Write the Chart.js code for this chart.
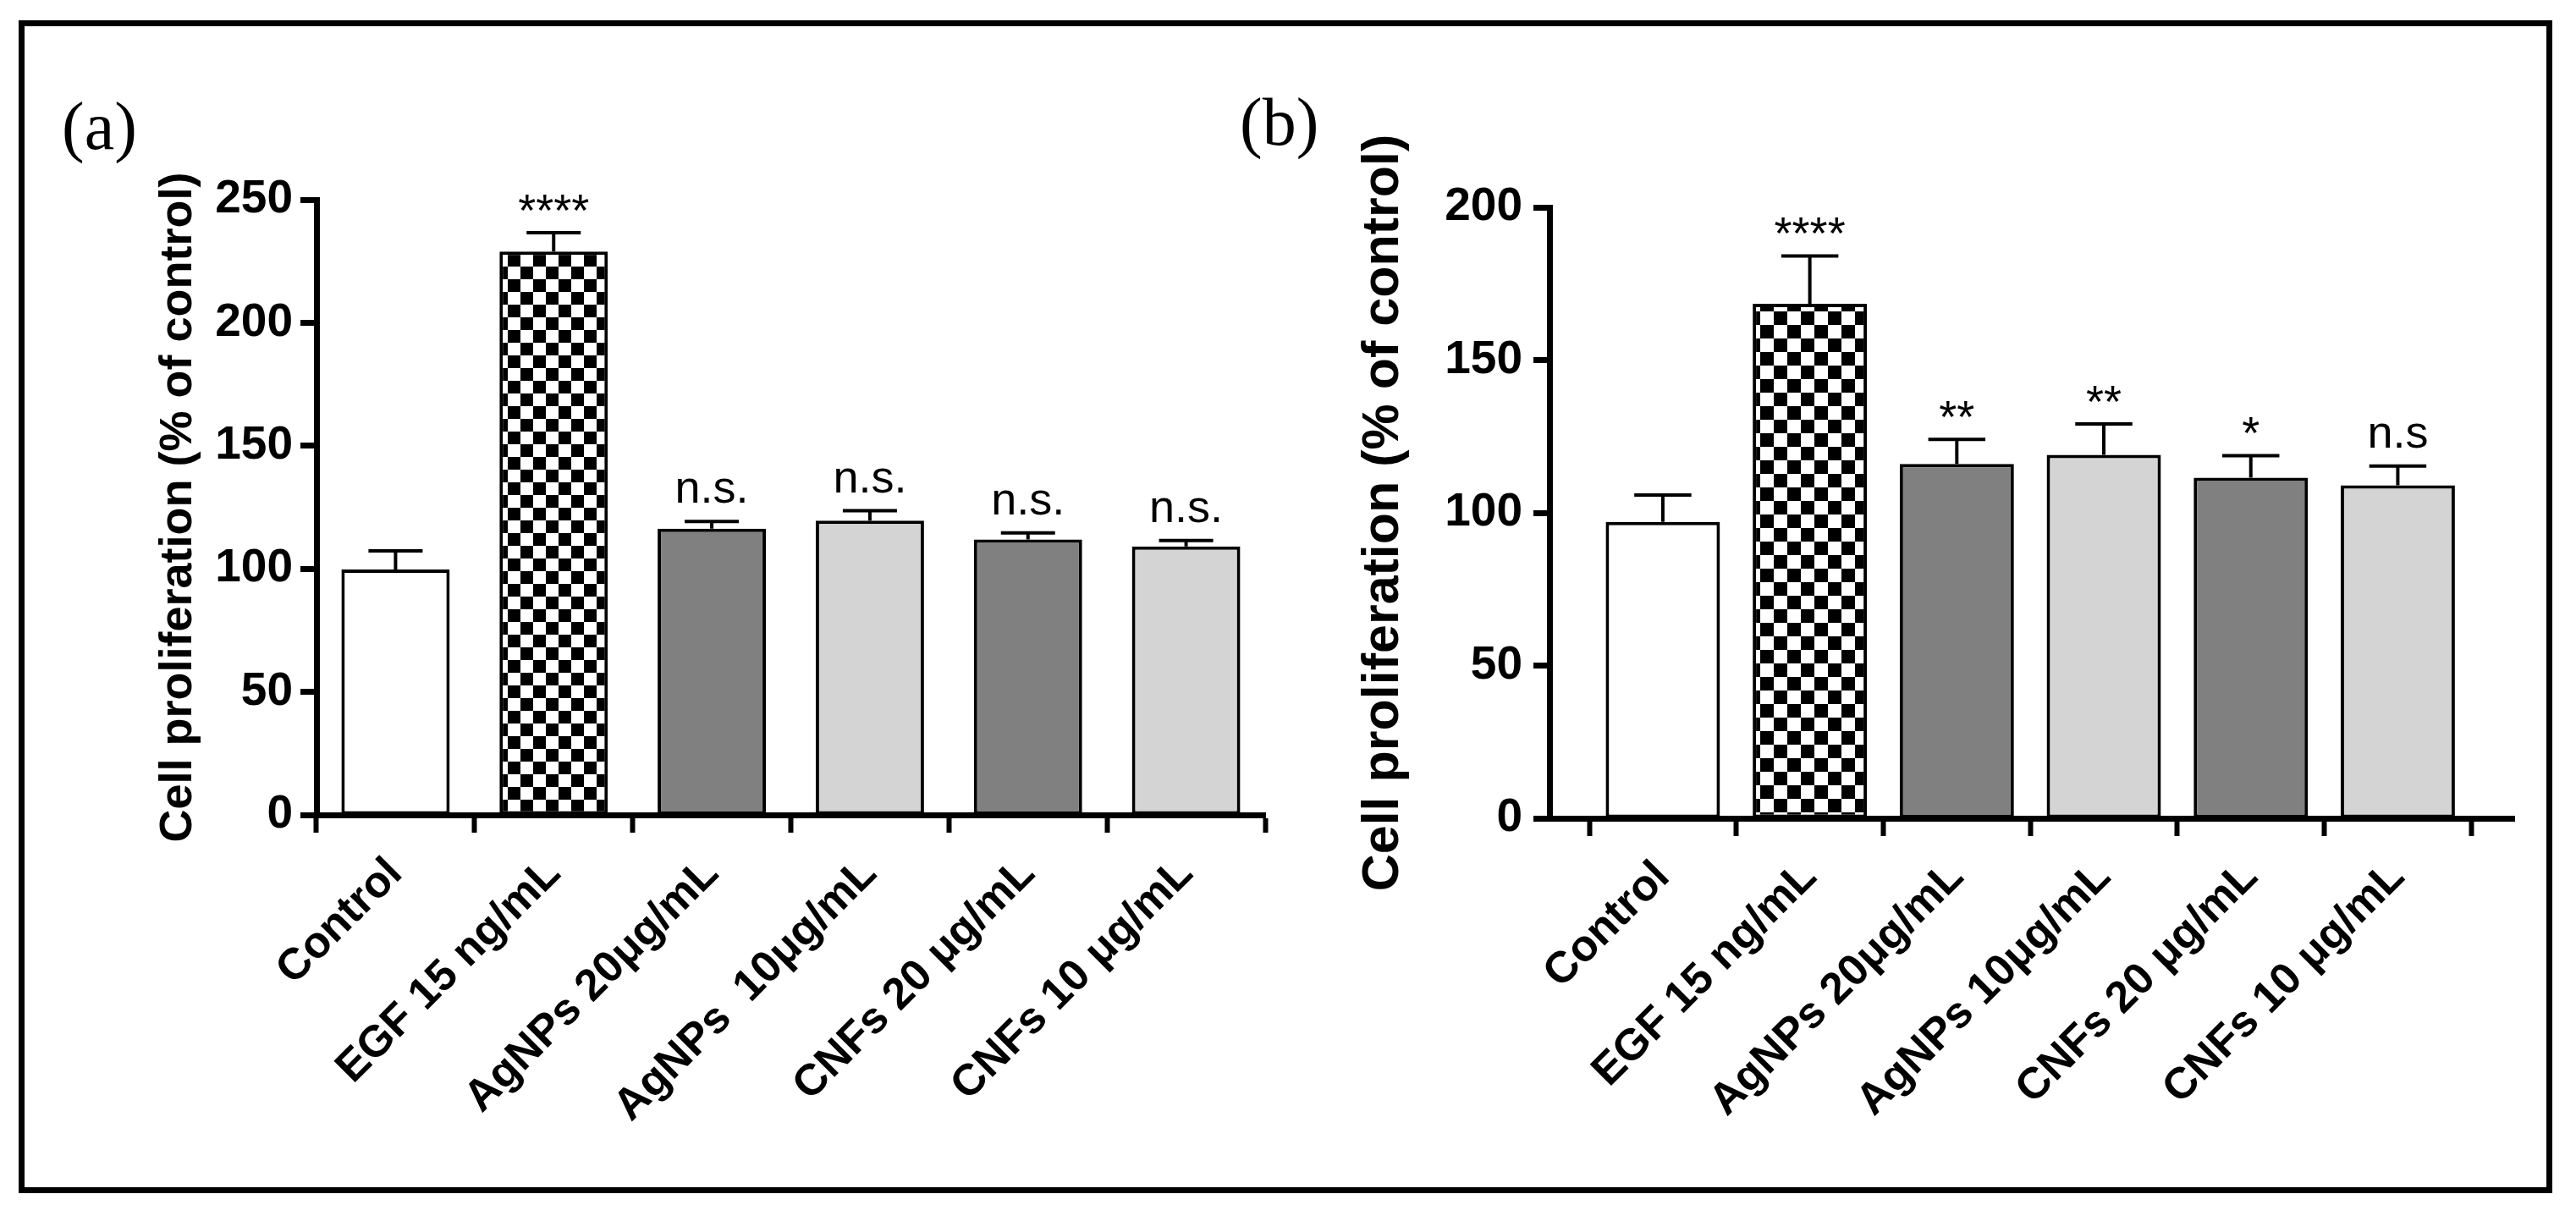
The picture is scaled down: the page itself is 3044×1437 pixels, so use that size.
<!DOCTYPE html>
<html>
<head>
<meta charset="utf-8">
<script src="https://cdn.jsdelivr.net/npm/chart.js@4.4.1/dist/chart.umd.min.js"></script>
<style>
  html, body { margin: 0; padding: 0; background: #fff; }
  body { width: 3044px; height: 1437px; position: relative; overflow: hidden; }
  #frame { position: absolute; left: 22px; top: 24px; width: 2994px; height: 1386px;
           border: 7px solid #000; box-sizing: border-box; }
  canvas { position: absolute; left: 0; top: 0; }
</style>
</head>
<body>
<div id="frame"></div>
<canvas id="chartA" width="3044" height="1437"></canvas>
<canvas id="chartB" width="3044" height="1437"></canvas>
<script>
// panel (a)
const categoriesA = ["Control", "EGF 15 ng/mL", "AgNPs 20\u03bcg/mL", "AgNPs  10\u03bcg/mL", "CNFs 20 \u03bcg/mL", "CNFs 10 \u03bcg/mL"];
const valuesA = [99.7, 228.9, 116.3, 119.6, 111.9, 109.1];
const errorsA = [7.6, 7.7, 2.9, 4.0, 2.7, 2.4];
const marksA = ["", "****", "n.s.", "n.s.", "n.s.", "n.s."];
const yTicksA = [0, 50, 100, 150, 200, 250];

// panel (b)
const categoriesB = ["Control", "EGF 15 ng/mL", "AgNPs 20\u03bcg/mL", "AgNPs 10\u03bcg/mL", "CNFs 20 \u03bcg/mL", "CNFs 10 \u03bcg/mL"];
const valuesB = [97.0, 168.4, 116.0, 119.0, 111.5, 109.0];
const errorsB = [8.8, 15.7, 8.0, 10.1, 7.2, 6.3];
const marksB = ["", "****", "**", "**", "*", "n.s"];
const yTicksB = [0, 50, 100, 150, 200];

const SANS = '"Liberation Sans", Arial, sans-serif';
const NARROW = '"Liberation Sans Narrow", "Arial Narrow", "Liberation Sans", Arial, sans-serif';

// checkerboard fill for the EGF bar
function checker(size) {
  const c = document.createElement("canvas");
  c.width = c.height = size * 2;
  const g = c.getContext("2d");
  g.fillStyle = "#fff";
  g.fillRect(0, 0, size * 2, size * 2);
  g.fillStyle = "#000";
  g.fillRect(0, 0, size, size);
  g.fillRect(size, size, size, size);
  return g.createPattern(c, "repeat");
}

// error bars, significance marks and panel letter
function overlay(errors, marks, letter) {
  return {
    id: "overlay",
    afterDatasetsDraw(chart) {
      const ctx = chart.ctx;
      const y = chart.scales.y;
      const ds = chart.data.datasets[0];
      ctx.save();
      ctx.strokeStyle = "#000";
      ctx.lineWidth = 4;
      ctx.fillStyle = "#000";
      ctx.font = "54px " + NARROW;
      ctx.textAlign = "center";
      ctx.textBaseline = "alphabetic";
      chart.getDatasetMeta(0).data.forEach((bar, i) => {
        const top = y.getPixelForValue(ds.data[i].y + errors[i]);
        const half = bar.width / 4;
        ctx.beginPath();
        ctx.moveTo(bar.x, bar.y);
        ctx.lineTo(bar.x, top);
        ctx.moveTo(bar.x - half, top);
        ctx.lineTo(bar.x + half, top);
        ctx.stroke();
        if (marks[i]) {
          const gap = marks[i].startsWith("*") ? 8 : 22;
          ctx.fillText(marks[i], bar.x, top - gap);
        }
      });
      ctx.font = "80px \"Liberation Serif\", \"Times New Roman\", serif";
      ctx.textAlign = "left";
      ctx.fillText(letter.text, letter.x, letter.y);
      ctx.restore();
    },
  };
}

function makeChart(id, cats, vals, errs, marks, yTicks, o) {
  const fills = ["#ffffff", checker(o.check), "#808080", "#d4d4d4", "#808080", "#d4d4d4"];
  return new Chart(document.getElementById(id), {
    type: "bar",
    data: {
      datasets: [{
        data: vals.map((v, i) => ({ x: i, y: v })),
        backgroundColor: fills,
        borderColor: "#000",
        borderWidth: 4,
        borderSkipped: false,
        barPercentage: 1,
        categoryPercentage: o.barFrac,
      }],
    },
    options: {
      responsive: false,
      animation: false,
      devicePixelRatio: 1,
      layout: { padding: { left: o.padL, right: o.padR, top: o.padT, bottom: 0 } },
      plugins: { legend: { display: false }, tooltip: { enabled: false } },
      scales: {
        x: {
          type: "linear",
          min: o.xMin,
          max: o.xMax,
          offset: false,
          afterBuildTicks(s) { s.ticks = cats.map((c, i) => ({ value: i })); },
          afterFit(s) { s.height = o.xH; s.paddingLeft = 0; s.paddingRight = 0; },
          ticks: {
            autoSkip: false,
            minRotation: 45,
            maxRotation: 45,
            padding: 18,
            color: "#000",
            font: { family: SANS, size: 52, weight: "bold" },
            callback: (v) => cats[Math.round(v)] ?? "",
          },
          grid: { drawOnChartArea: false, tickLength: 21, tickWidth: 6, tickColor: "#000" },
          border: { display: true, color: "#000", width: 7 },
        },
        y: {
          min: 0,
          max: yTicks[yTicks.length - 1],
          afterBuildTicks(s) { s.ticks = yTicks.map((v) => ({ value: v })); },
          afterFit(s) { s.width = o.yW; s.paddingTop = 0; s.paddingBottom = 0; },
          ticks: {
            padding: o.tickPad,
            color: "#000",
            font: { family: NARROW, size: 55, weight: "bold" },
          },
          grid: { drawOnChartArea: false, tickLength: 19, tickWidth: 7, tickColor: "#000" },
          border: { display: true, color: "#000", width: 7 },
          title: {
            display: true,
            text: "Cell proliferation (% of control)",
            color: "#000",
            padding: 0,
            font: { family: SANS, size: o.titleSize, weight: "bold" },
          },
        },
      },
    },
    plugins: [overlay(errs, marks, o.letter)],
  });
}

makeChart("chartA", categoriesA, valuesA, errorsA, marksA, yTicksA, {
  padL: 179, yW: 195, padR: 1549, padT: 236, xH: 474,
  xMin: -0.5, xMax: 5.5, barFrac: 0.685, check: 15, tickPad: 9, titleSize: 54,
  letter: { text: "(a)", x: 73, y: 176 },
});

makeChart("chartB", categoriesB, valuesB, errorsB, marksB, yTicksB, {
  padL: 1599, yW: 232, padR: 73, padT: 245, xH: 470,
  xMin: -0.771, xMax: 5.792, barFrac: 0.777, check: 16, tickPad: 13, titleSize: 61,
  letter: { text: "(b)", x: 1465, y: 171 },
});
</script>
</body>
</html>
